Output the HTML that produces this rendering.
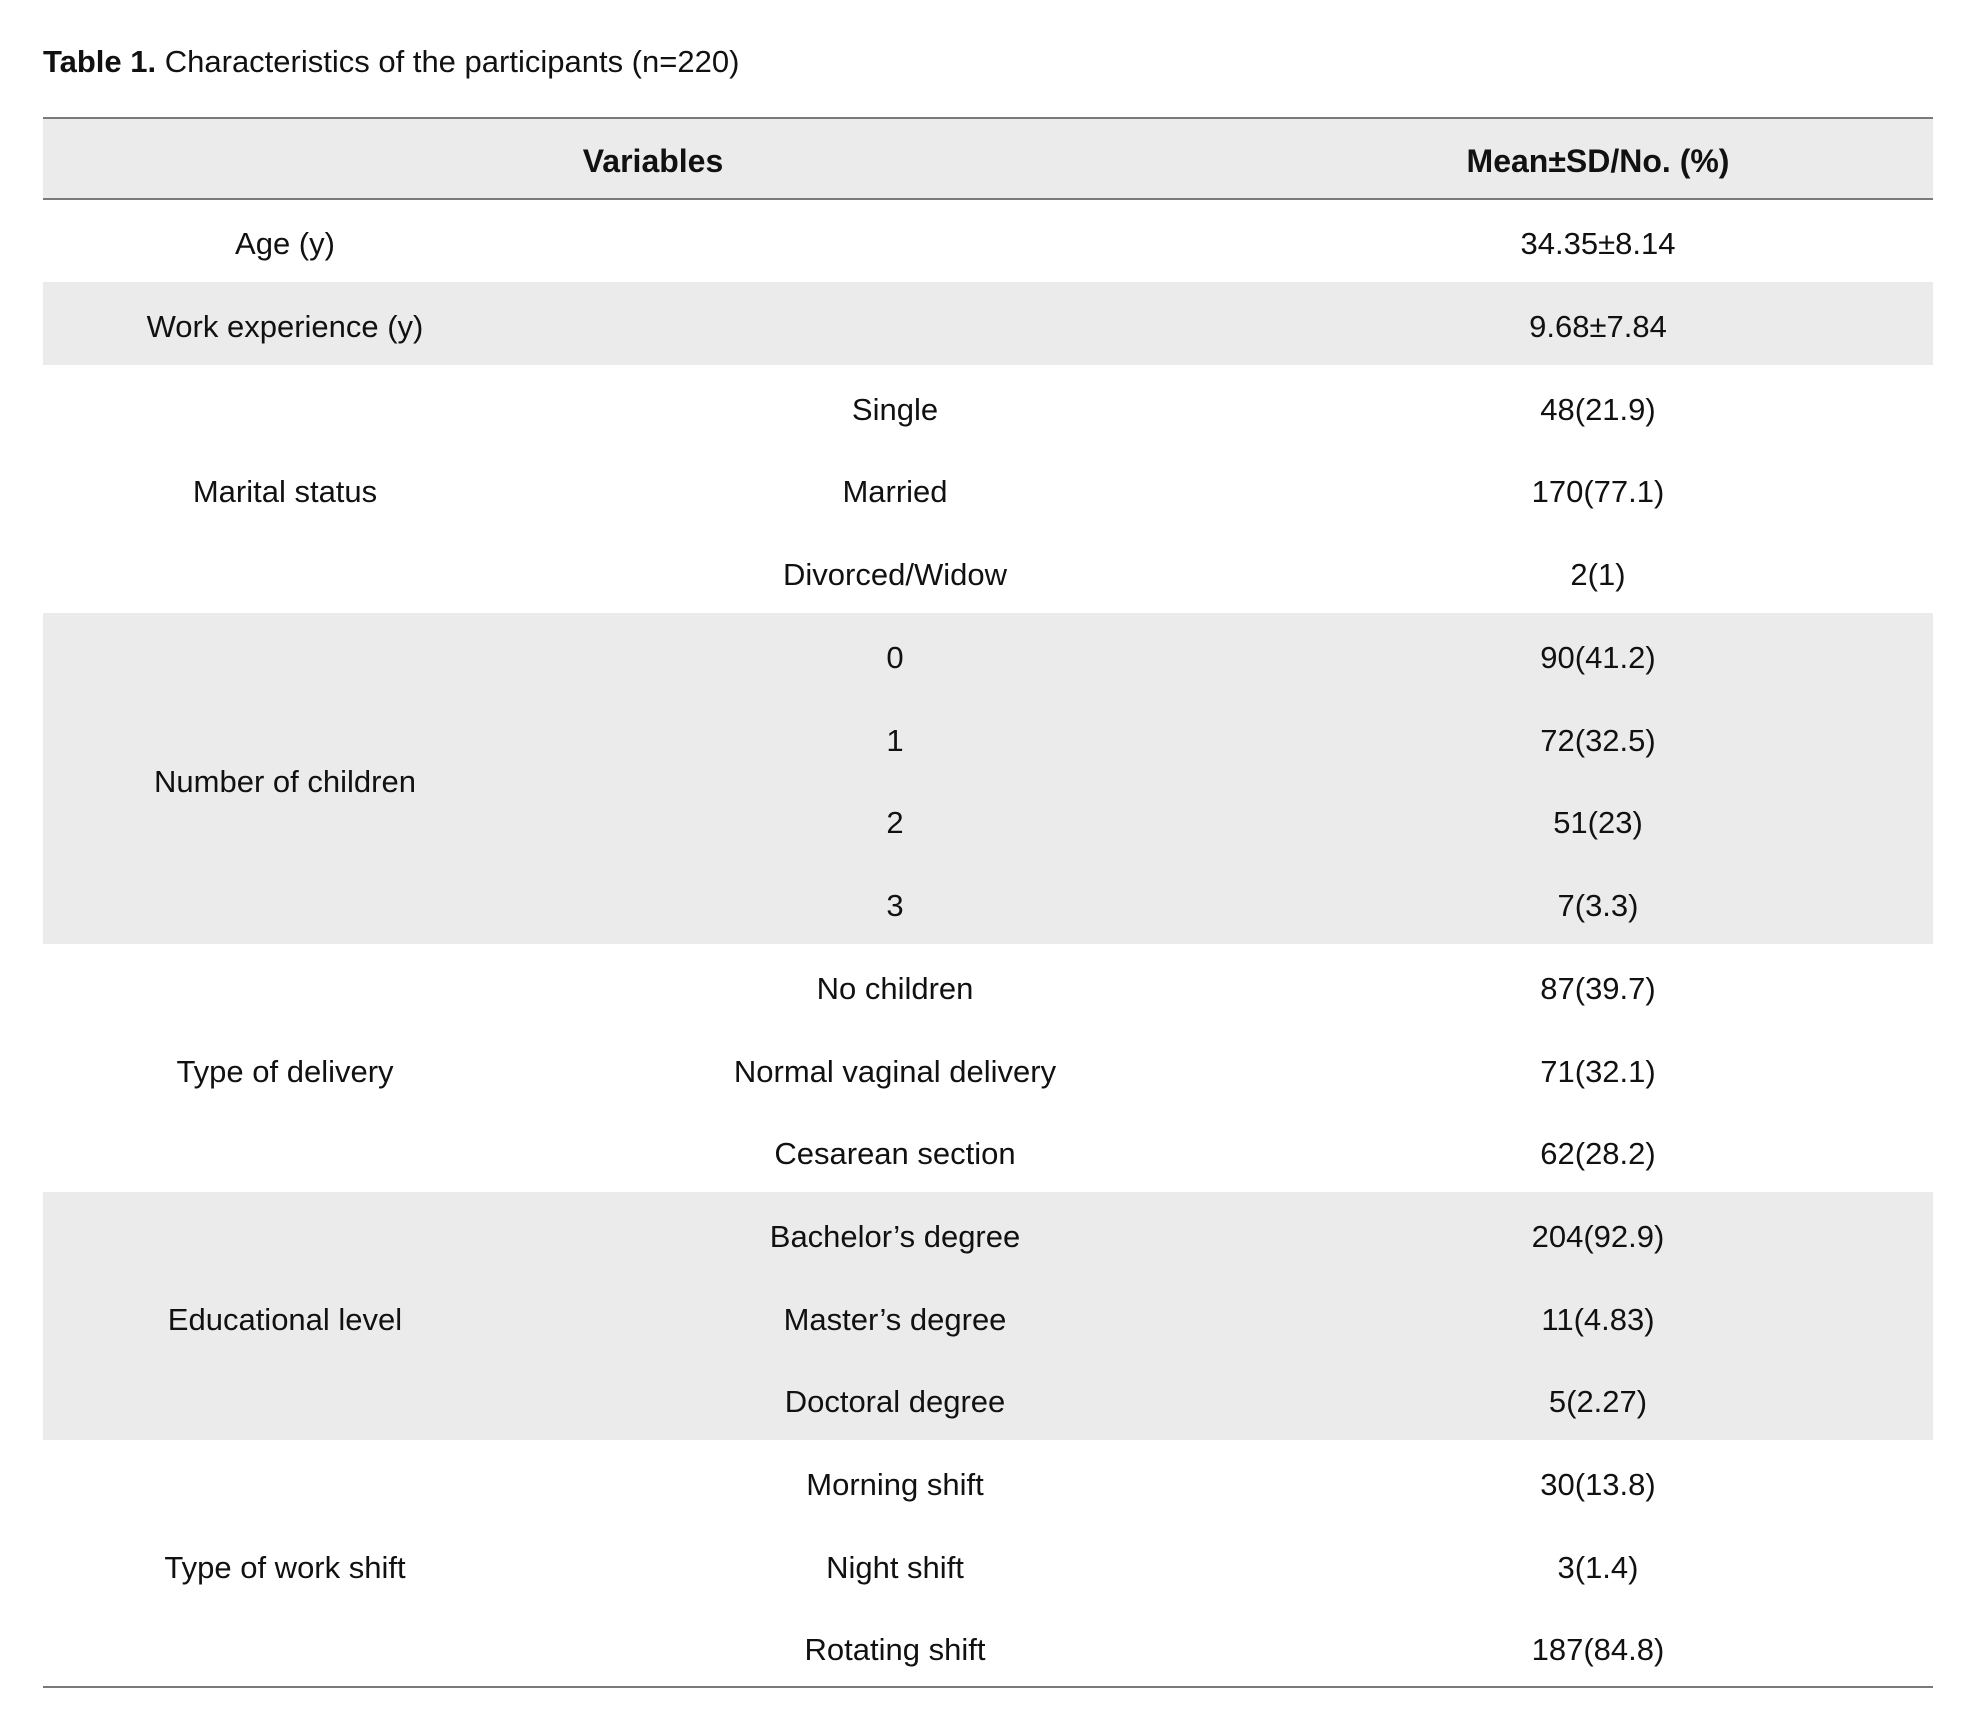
<!DOCTYPE html>
<html><head><meta charset="utf-8"><style>
body{margin:0;width:1977px;height:1714px;background:#fff;font-family:"Liberation Sans",sans-serif;color:#111;position:relative;overflow:hidden}
.t{position:absolute;left:43px;top:44px;font-size:31px;letter-spacing:0px}
.ln{position:absolute;left:43px;width:1890px;height:2px;background:#7a7a7a}
.g{position:absolute;left:43px;width:1890px;background:#ebebeb}
.c{position:absolute;height:83px;line-height:89px;text-align:center;font-size:31px;white-space:nowrap}
.a{left:43px;width:484px}.b{left:527px;width:736px}.d{left:1263px;width:670px}
.h{font-weight:bold;height:82px;line-height:88px;top:117px;font-size:32px}
</style></head><body>
<div class="t"><b>Table 1.</b> Characteristics of the participants (n=220)</div>
<div class="g" style="top:117px;height:82px"></div>
<div class="g" style="top:282px;height:83px"></div>
<div class="g" style="top:613px;height:331px"></div>
<div class="g" style="top:1192px;height:248px"></div>
<div class="ln" style="top:117px"></div>
<div class="ln" style="top:198px"></div>
<div class="ln" style="top:1686px"></div>
<div class="c h" style="left:43px;width:1220px">Variables</div>
<div class="c h d">Mean±SD/No. (%)</div>

<div class="c a" style="top:199px">Age (y)</div><div class="c d" style="top:199px">34.35±8.14</div>
<div class="c a" style="top:282px">Work experience (y)</div><div class="c d" style="top:282px">9.68±7.84</div>

<div class="c a" style="top:447px">Marital status</div>
<div class="c b" style="top:365px">Single</div><div class="c d" style="top:365px">48(21.9)</div>
<div class="c b" style="top:447px">Married</div><div class="c d" style="top:447px">170(77.1)</div>
<div class="c b" style="top:530px">Divorced/Widow</div><div class="c d" style="top:530px">2(1)</div>

<div class="c a" style="top:737px">Number of children</div>
<div class="c b" style="top:613px">0</div><div class="c d" style="top:613px">90(41.2)</div>
<div class="c b" style="top:696px">1</div><div class="c d" style="top:696px">72(32.5)</div>
<div class="c b" style="top:778px">2</div><div class="c d" style="top:778px">51(23)</div>
<div class="c b" style="top:861px">3</div><div class="c d" style="top:861px">7(3.3)</div>

<div class="c a" style="top:1027px">Type of delivery</div>
<div class="c b" style="top:944px">No children</div><div class="c d" style="top:944px">87(39.7)</div>
<div class="c b" style="top:1027px">Normal vaginal delivery</div><div class="c d" style="top:1027px">71(32.1)</div>
<div class="c b" style="top:1109px">Cesarean section</div><div class="c d" style="top:1109px">62(28.2)</div>

<div class="c a" style="top:1275px">Educational level</div>
<div class="c b" style="top:1192px">Bachelor’s degree</div><div class="c d" style="top:1192px">204(92.9)</div>
<div class="c b" style="top:1275px">Master’s degree</div><div class="c d" style="top:1275px">11(4.83)</div>
<div class="c b" style="top:1357px">Doctoral degree</div><div class="c d" style="top:1357px">5(2.27)</div>

<div class="c a" style="top:1523px">Type of work shift</div>
<div class="c b" style="top:1440px">Morning shift</div><div class="c d" style="top:1440px">30(13.8)</div>
<div class="c b" style="top:1523px">Night shift</div><div class="c d" style="top:1523px">3(1.4)</div>
<div class="c b" style="top:1605px">Rotating shift</div><div class="c d" style="top:1605px">187(84.8)</div>
</body></html>
